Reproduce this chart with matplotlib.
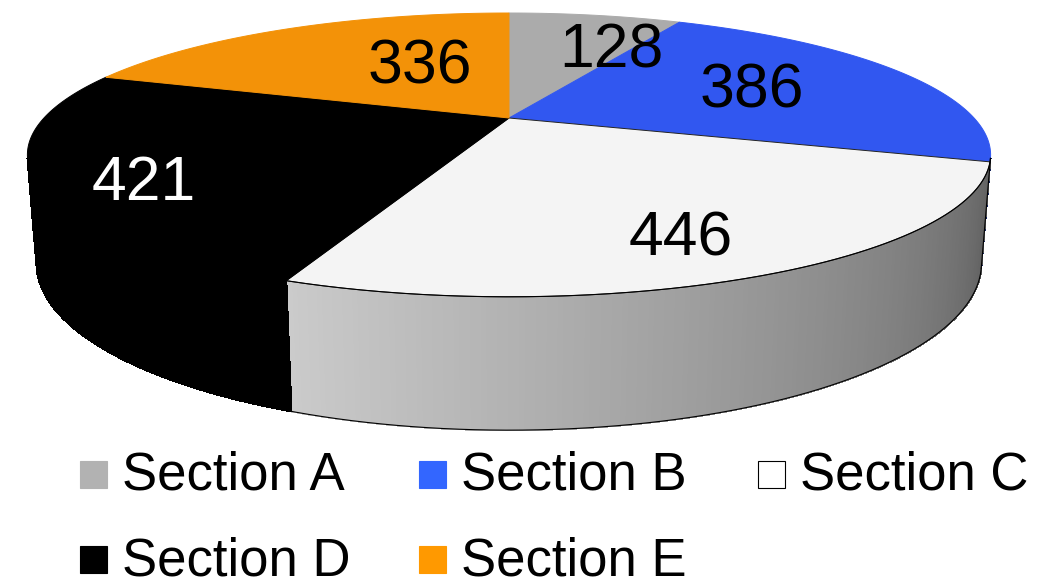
import numpy as np
import matplotlib.pyplot as plt
from matplotlib.patches import Polygon, Rectangle
from matplotlib.colors import to_rgb

plt.rcParams["font.family"] = ["Liberation Sans", "DejaVu Sans"]

# ---- datos ----
sections = ["Section A", "Section B", "Section C", "Section D", "Section E"]
values = [128, 386, 446, 421, 336]
top_colors = ["#ababab", "#3157f0", "#f4f4f4", "#000000", "#f39208"]
legend_colors = ["#b2b2b2", "#3366ff", "#ffffff", "#000000", "#ff9900"]
label_colors = ["black", "black", "black", "white", "black"]
# (centro x, linea base) de cada etiqueta, en pixeles
label_xy = [(611, 67), (752, 108), (681, 255), (144, 200), (420, 83)]

# ---- camara del pastel 3D (coordenadas en pixeles) ----
CX, CY = 509, 118
SIN_E = 0.2845
COS_E = np.sqrt(1 - SIN_E ** 2)
DIST = 3.687
FOCAL = 1714.6
THICK = 0.234
W, H = 1064, 581


def proj(theta, z=0.0):
    """Proyecta un punto del borde del disco (angulo desde arriba, horario)."""
    x = np.sin(theta)
    y = np.cos(theta)
    depth = DIST + y * COS_E - z * SIN_E
    X = CX + FOCAL * x / depth
    Yup = FOCAL * (y * SIN_E + z * COS_E) / depth
    return X, CY - Yup


def side_shade(theta):
    t = (np.degrees(theta) - 106) / 95
    return np.clip(0.38 + 0.45 * t, 0.3, 0.85)


fig = plt.figure(figsize=(W / 100, H / 100), dpi=100)
ax = fig.add_axes([0, 0, 1, 1])
ax.set_xlim(0, W)
ax.set_ylim(H, 0)
ax.axis("off")

total = sum(values)
bounds = np.concatenate([[0], np.cumsum(values)]) / total * 2 * np.pi

# parte visible de la pared lateral
th_lim = np.arccos(-1 / (DIST * COS_E))
vis_lo, vis_hi = th_lim, 2 * np.pi - th_lim

for i in range(len(values)):
    a0 = max(bounds[i], vis_lo)
    a1 = min(bounds[i + 1], vis_hi)
    if a1 <= a0:
        continue
    n = max(2, int(np.degrees(a1 - a0) * 2))
    ths = np.linspace(a0, a1, n)
    base = np.array(to_rgb(top_colors[i]))
    # fondo de la pared en una sola pieza, luego el degradado encima
    tx, ty = proj(ths)
    bx, by = proj(ths[::-1], -THICK)
    mid = base * side_shade(0.5 * (a0 + a1))
    ax.add_patch(Polygon(list(zip(tx, ty)) + list(zip(bx, by)), closed=True,
                         facecolor=mid, edgecolor=mid, linewidth=0.5))
    for t0, t1 in zip(ths[:-1], ths[1:]):
        c = base * side_shade(0.5 * (t0 + t1))
        pts = [proj(t0), proj(t1), proj(t1, -THICK), proj(t0, -THICK)]
        ax.add_patch(Polygon(pts, closed=True, facecolor=c, edgecolor=c,
                             linewidth=0.8, antialiased=False))

# cara superior
for i in range(len(values)):
    ths = np.linspace(bounds[i], bounds[i + 1], 200)
    xs, ys = proj(ths)
    pts = [(CX, CY)] + list(zip(xs, ys))
    edge = "#222222" if i == 2 else top_colors[i]
    ax.add_patch(Polygon(pts, closed=True, facecolor=top_colors[i],
                         edgecolor=edge, linewidth=0.7))

# contorno de la pared (el borde superior solo hasta donde empieza D)
ths = np.linspace(vis_lo, vis_hi, 300)
bx, by = proj(ths, -THICK)
ax.plot(bx, by, color="black", lw=0.8)
ths = np.linspace(vis_lo, bounds[3], 200)
tx, ty = proj(ths)
ax.plot(tx, ty, color="black", lw=0.8)
p0, p1 = proj(vis_lo), proj(vis_lo, -THICK)
ax.plot([p0[0], p1[0]], [p0[1], p1[1]], color="black", lw=0.8)

# etiquetas de valores
for v, (lx, ly), col in zip(values, label_xy, label_colors):
    ax.text(lx, ly, str(v), fontsize=45, color=col, ha="center", va="baseline")

# leyenda
for i, (name, col) in enumerate(zip(sections, legend_colors)):
    row, c = divmod(i, 3)
    sx = 80 + c * 339
    base_y = 490 + row * 85
    ax.add_patch(Rectangle((sx, base_y - 29), 27, 27, facecolor=col,
                           edgecolor="black" if col == "#ffffff" else col,
                           linewidth=0.8))
    ax.text(sx + 42, base_y, name, fontsize=38, ha="left", va="baseline")

fig.savefig("out.png", dpi=100)
